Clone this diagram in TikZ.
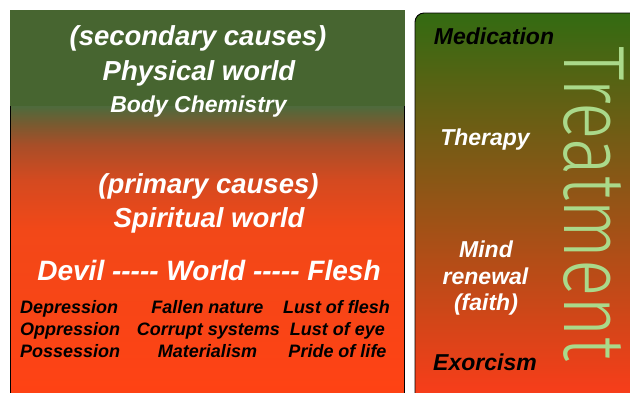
\documentclass[tikz,border=0pt]{standalone}
\usepackage{fontspec}
\setmainfont{Liberation Sans}
\newfontfamily\thinfont{Fira Sans Light}
\usetikzlibrary{positioning}

\definecolor{physgreen}{HTML}{476530}
\definecolor{causesA}{HTML}{4F6A3C}
\definecolor{causesB}{HTML}{7A5A30}
\definecolor{causesC}{HTML}{A84E28}
\definecolor{causesD}{HTML}{D44A20}
\definecolor{causesE}{HTML}{F24818}
\definecolor{causesF}{HTML}{FF4214}
\definecolor{curetop}{HTML}{336B12}
\definecolor{curebottom}{HTML}{FC3C1A}
\definecolor{curelabel}{HTML}{AAD98A}

\pgfdeclareverticalshading{causes}{100bp}{color(0bp)=(causesF); color(25bp)=(causesF);
  color(46.8bp)=(causesE); color(53.2bp)=(causesD); color(57.7bp)=(causesC);
  color(60.3bp)=(causesB); color(62.6bp)=(causesA); color(75bp)=(causesA); color(100bp)=(causesA)}

\newcommand{\fivedash}{-{}-{}-{}-{}-}

\begin{document}
\begin{tikzpicture}[
  x=1pt, y=-1pt,
  heading/.style={anchor=base, inner sep=0pt, text=white, font=\fontsize{27.5}{30}\selectfont\bfseries\itshape},
  subhead/.style={heading, font=\fontsize{23}{26}\selectfont\bfseries\itshape},
  item/.style={anchor=base, inner sep=0pt, text=black, font=\fontsize{18}{22}\selectfont\bfseries\itshape},
  cure/.style={anchor=base, inner sep=0pt, font=\fontsize{23}{27}\selectfont\bfseries\itshape}
]
\useasboundingbox[fill=white] (0,0) rectangle (630,392);
\clip (0,0) rectangle (630,392);

% causes panel
\path[shading=causes, draw=black, line width=0.9pt] (10.5,10) rectangle (404.5,400);
\fill[physgreen] (10,10) rectangle (405,106);

\node[heading] (secondary) at (198,45) {(secondary causes)};
\node[heading] (physical) at (199,80) {Physical world};
\node[subhead] (chemistry) at (198.5,112) {Body Chemistry};

\node[heading] (primary) at (208.5,193) {(primary causes)};
\node[heading] (spiritual) at (209,227) {Spiritual world};
\node[heading, font=\fontsize{28}{30}\selectfont\bfseries\itshape] (triad) at (209,280)
  {Devil \fivedash{} World \fivedash{} Flesh};

\node[item, anchor=base west] (dep) at (20,313) {Depression};
\node[item, anchor=base west] (opp) at (20,335) {Oppression};
\node[item, anchor=base west] (pos) at (20,357) {Possession};

\node[item] (fallen) at (207.5,313) {Fallen nature};
\node[item] (corrupt) at (208.5,335) {Corrupt systems};
\node[item] (material) at (207.5,357) {Materialism};

\node[item] (lflesh) at (336.5,313) {Lust of flesh};
\node[item] (leye) at (337.5,335) {Lust of eye};
\node[item] (pride) at (337.5,357) {Pride of life};

% treatment panel
\path[draw=black, line width=0.9pt, rounded corners=9pt, top color=curetop, bottom color=curebottom]
  (415,13) rectangle (645,402);

\node[anchor=base, inner sep=0pt, rotate=-90, text=curelabel, font=\fontsize{87}{87}\selectfont\thinfont]
  (treatment) at (564,203.5) {\scalebox{0.80}[1]{Treatment}};

\node[cure, text=black] (medication) at (494,44) {Medication};
\node[cure, text=white] (therapy) at (485,145) {Therapy};
\node[cure, text=white] (mind) at (486,257) {Mind};
\node[cure, text=white] (renewal) at (485.5,284) {renewal};
\node[cure, text=white] (faith) at (486,310) {(faith)};
\node[cure, text=black] (exorcism) at (485,370) {Exorcism};

\end{tikzpicture}
\end{document}
